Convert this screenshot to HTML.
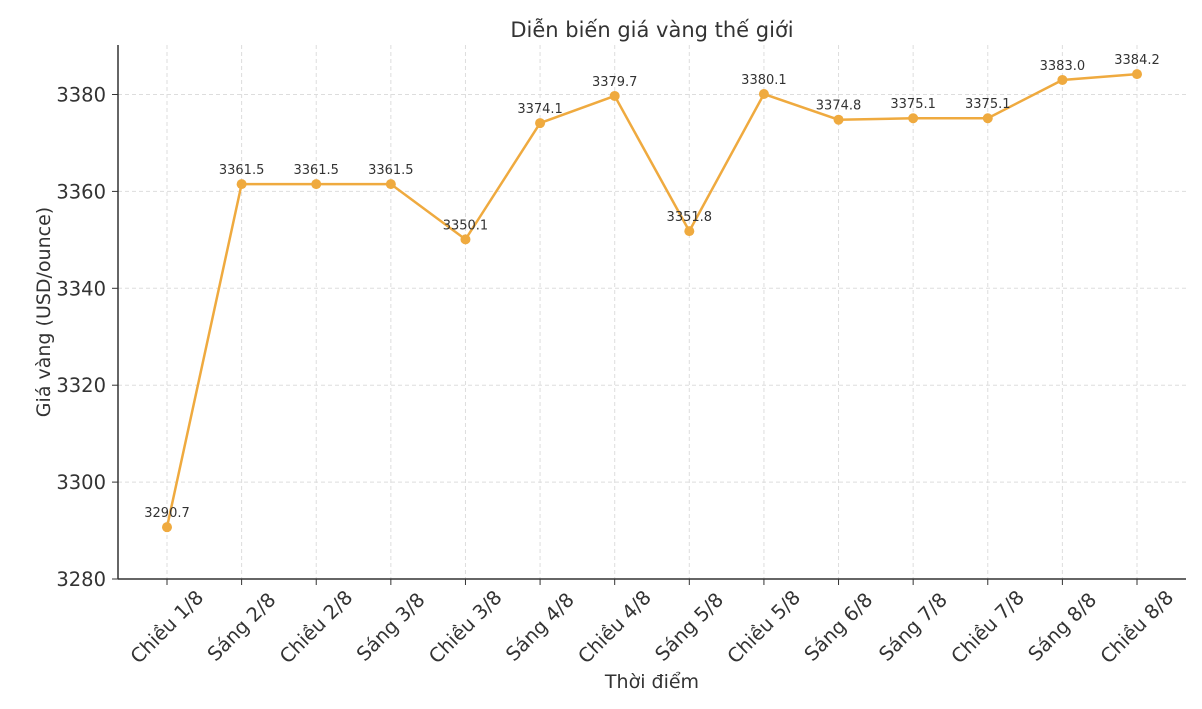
<!DOCTYPE html>
<html><head><meta charset="utf-8"><style>
body{margin:0;background:#fff}
svg text{font-family:"DejaVu Sans","Liberation Sans",sans-serif}
</style></head><body>
<svg id="chart" width="1202" height="704" xmlns="http://www.w3.org/2000/svg">
<rect width="1202" height="704" fill="#fff"/>
<text x="652" y="37" font-size="21" fill="#333" text-anchor="middle">Diễn biến giá vàng thế giới</text>
<text x="652" y="688" font-size="19" fill="#333" text-anchor="middle">Thời điểm</text>
<text transform="translate(50,312) rotate(-90)" font-size="19" fill="#333" text-anchor="middle">Giá vàng (USD/ounce)</text>
<g id="grid"></g><g id="axes"></g><g id="series"></g>
</svg>
<script>
const categories=["Chiều 1/8","Sáng 2/8","Chiều 2/8","Sáng 3/8","Chiều 3/8","Sáng 4/8","Chiều 4/8","Sáng 5/8","Chiều 5/8","Sáng 6/8","Sáng 7/8","Chiều 7/8","Sáng 8/8","Chiều 8/8"];
const prices=[3290.7,3361.5,3361.5,3361.5,3350.1,3374.1,3379.7,3351.8,3380.1,3374.8,3375.1,3375.1,3383.0,3384.2];
const yTicks=[3280,3300,3320,3340,3360,3380];
const NS="http://www.w3.org/2000/svg";
const x=i=>167+i*(1137-167)/(categories.length-1);
const y=v=>579-(v-3280)*4.845;
function mk(tag,attrs,parent){const e=document.createElementNS(NS,tag);for(const k in attrs)e.setAttribute(k,attrs[k]);parent.appendChild(e);return e;}
const grid=document.getElementById('grid'),axes=document.getElementById('axes'),ser=document.getElementById('series');
categories.forEach((c,i)=>{
 const g=mk('line',{x1:x(i),x2:x(i),y1:45,y2:579,stroke:'#ddd','stroke-dasharray':'4,3'},grid);
 
 
 const t=mk('line',{x1:x(i),x2:x(i),y1:579,y2:585,stroke:'#333'},axes);
 
 
 const l=mk('text',{transform:`translate(${x(i)},627) rotate(-45)`,'font-size':'19.5',fill:'#333','text-anchor':'middle','dominant-baseline':'central'},axes);
 l.textContent=c;
 
 
});
yTicks.forEach(v=>{
 const g=mk('line',{x1:118,x2:1186,y1:y(v),y2:y(v),stroke:'#ddd','stroke-dasharray':'4,3'},grid);
 
 
 const t=mk('line',{x1:112,x2:118,y1:y(v),y2:y(v),stroke:'#333'},axes);
 
 
 const l=mk('text',{x:106,y:y(v)+7,'font-size':'19.5',fill:'#333','text-anchor':'end'},axes);
 l.textContent=v;
 
 
});
const sp1=mk('line',{x1:118,x2:118,y1:45,y2:579,stroke:'#333','stroke-width':1.5},axes);


const sp2=mk('line',{x1:118,x2:1186,y1:579,y2:579,stroke:'#333','stroke-width':1.5},axes);


const path=mk('polyline',{points:prices.map((v,i)=>x(i)+','+y(v)).join(' '),fill:'none',stroke:'#EFAA3F','stroke-width':2.5},ser);


prices.forEach((v,i)=>{
 const c=mk('circle',{cx:x(i),cy:y(v),r:5,fill:'#EFAA3F'},ser);
 
 
 const t=mk('text',{x:x(i),y:y(v)-10,'font-size':'13',fill:'#333','text-anchor':'middle'},ser);
 t.textContent=v.toFixed(1);
 
 
});
</script>
</body></html>
